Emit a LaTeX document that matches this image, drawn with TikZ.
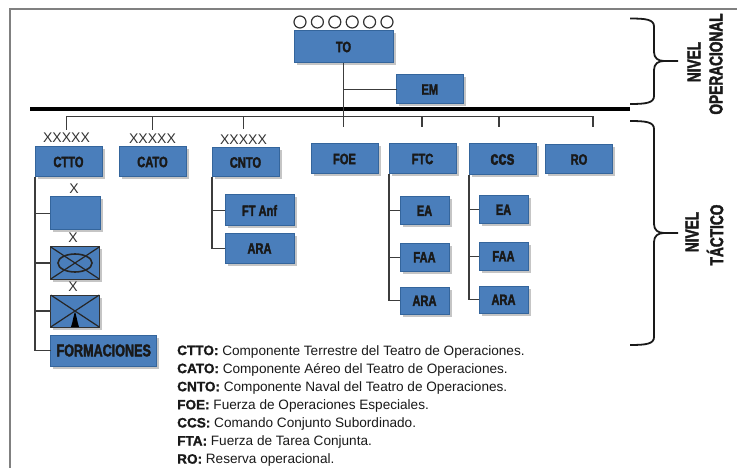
\documentclass[tikz,border=0pt]{standalone}
\usepackage{fontspec}
\setmainfont{Liberation Sans}[BoldFeatures={FakeBold=1.2}]
\newfontfamily\condfont{Liberation Sans}[FakeStretch=0.74, BoldFeatures={FakeBold=2, FakeStretch=0.74}]
\usetikzlibrary{positioning, shadows, calc}
\definecolor{unitblue}{HTML}{4A7EBB}
\definecolor{unitedge}{HTML}{34659C}
\definecolor{linkgray}{HTML}{3C3C3C}
\newcommand{\levelbrace}[3]{%
  \draw[bracket] (630,#1) .. controls (646,#1) and (654,#1+1) .. (654,#1+8)
    -- (654,#2-9) .. controls (654,#2-3) and (658,#2) .. (664,#2) -- (678,#2)
    (664,#2) .. controls (658,#2) and (654,#2+3) .. (654,#2+9)
    -- (654,#3-8) .. controls (654,#3-1) and (646,#3) .. (630,#3);}

\begin{document}
\begin{tikzpicture}[
    x=1bp, y=-1bp,
    unit/.style={rectangle, draw=unitedge, line width=1bp, fill=unitblue, inner sep=0pt, outer sep=0pt, text=black!90, font=\condfont\fontsize{15bp}{15bp}\selectfont\bfseries, drop shadow={shadow xshift=2.5bp, shadow yshift=-2.5bp, fill=black!45}},
    top/.style={unit, minimum width=67bp, minimum height=30bp},
    sub/.style={unit, minimum width=49bp, minimum height=27.5bp},
    wide/.style={unit, minimum width=69bp, minimum height=30bp},
    symbol/.style={unit, draw=black!80, minimum width=48.5bp, minimum height=32bp},
    rank/.style={inner sep=0pt, text=black!80, font=\fontsize{14bp}{14bp}\selectfont},
    ring/.style={circle, draw=black!80, line width=1.2bp, minimum size=12bp, inner sep=0pt},
    link/.style={line width=1.3bp, draw=linkgray},
    bracket/.style={line width=1.8bp, draw=black!90},
    level/.style={rotate=90, inner sep=0pt, text=black!90, font=\condfont\fontsize{18.5bp}{18.5bp}\selectfont\bfseries}
]
\useasboundingbox (0,0) rectangle (737,468);

% Frame
\draw[line width=2bp, draw=gray] (10,468) -- (10,9) -- (737,9);

% Operational level
\node[top, minimum width=99bp, minimum height=32bp] (to) at (343.5,47) {TO};
\node[top, minimum width=66.5bp, minimum height=29bp, right=3.5bp of to.south east, anchor=north west, yshift=-12bp] (em) {EM};
\foreach \i in {0,...,5}
  \node[ring] (ring\i) at (300+17.4*\i,22) {};

% Main bar and bus
\coordinate (barL) at (30,109);
\coordinate (barR) at (630,109);
\coordinate (busL) at (66,116.5);
\coordinate (busR) at (593,116.5);
\coordinate (dropfoe) at (343.5,127);
\coordinate (dropftc) at (422,127);
\coordinate (dropccs) at (499,127);
\coordinate (dropro) at (593,127);

% Tactical level
\node[top] (ctto) at (68.5,162) {CTTO};
\node[top] (cato) at (152.5,162) {CATO};
\node[top, minimum height=29bp] (cnto) at (245.5,162.5) {CNTO};
\node[top] (foe) at (344.5,159) {FOE};
\node[top] (ftc) at (422.5,159) {FTC};
\node[top, minimum height=31bp, font=\condfont\fontsize{19.5bp}{19.5bp}\selectfont\bfseries] (ccs) at (502.5,159.5) {ccs};
\node[top, minimum height=29bp] (ro) at (579,159.5) {RO};

% Ranks
\node[rank, outer ysep=3.5bp] (xctto) at (66.5,138) {XXXXX};
\node[rank, outer ysep=4.5bp] (xcato) at (152.5,139) {XXXXX};
\node[rank, outer ysep=6bp] (xcnto) at (243.5,140) {XXXXX};

% CTTO units
\node[unit, minimum width=50bp, minimum height=33bp, below right=20bp and 15bp of ctto.south west] (brig) {};
\node[symbol, below=17bp of brig] (mech) {};
\node[symbol, below=16bp of mech] (para) {};
\node[unit, minimum width=106bp, minimum height=31bp, below=8bp of para.south west, anchor=north west, font=\condfont\fontsize{17bp}{17bp}\selectfont\bfseries] (form) {FORMACIONES};
\node[rank] (xbrig) at (74,189) {X};
\node[rank] (xmech) at (73,238) {X};
\node[rank] (xpara) at (73,287) {X};

% CNTO units
\node[wide, minimum height=31bp, below right=18bp and 13bp of cnto.south west] (ftanf) {FT Anf};
\node[wide, minimum height=29bp, below=8bp of ftanf] (aracn) {ARA};

% FTC units
\node[sub, below right=23bp and 11bp of ftc.south west] (eaftc) {EA};
\node[sub, below=19bp of eaftc] (faaftc) {FAA};
\node[sub, below=16bp of faaftc] (araftc) {ARA};

% CCS units
\node[sub, below right=21bp and 10bp of ccs.south west] (eaccs) {EA};
\node[sub, below=19bp of eaccs] (faaccs) {FAA};
\node[sub, below=16bp of faaccs] (araccs) {ARA};

% Symbols
\draw[line width=1.2bp, black!85] (mech.north west) -- (mech.south east) (mech.south west) -- (mech.north east);
\draw[line width=1.6bp, black!85] (mech.center) ellipse (17 and 9);
\draw[line width=1.2bp, black!85] (para.north west) -- (para.south east) (para.south west) -- (para.north east);
\fill[black] ($(para.south)+(-4,0)$) .. controls ($(para.south)+(-2,-6)$) and ($(para.south)+(-1,-14)$) .. ($(para.south)+(0,-15)$) .. controls ($(para.south)+(1,-14)$) and ($(para.south)+(2,-6)$) .. ($(para.south)+(4,0)$) -- cycle;

% Links
\draw[line width=4bp, black] (barL) -- (barR);
\draw[link] (to.south) -- (dropfoe);
\draw[link] (to.south |- em.west) -- (em.west);
\draw[link] (xctto.north) |- (busR) -- (dropro);
\draw[link] (xcato.north) -- (xcato.north |- busL);
\draw[link] (xcnto.north) -- (xcnto.north |- busL);
\draw[link] (dropftc) -- (dropftc |- busL);
\draw[link] (dropccs) -- (dropccs |- busL);

\draw[link] (ctto.south west) |- (form.west);
\draw[link] (ctto.south west |- brig.west) -- (brig.west);
\draw[link] (ctto.south west |- mech.west) -- (mech.west);
\draw[link] (ctto.south west |- para.west) -- (para.west);

\draw[link] (cnto.south west) |- (aracn.west);
\draw[link] (cnto.south west |- ftanf.west) -- (ftanf.west);

\draw[link] (ftc.south west) |- (araftc.west);
\draw[link] (ftc.south west |- eaftc.west) -- (eaftc.west);
\draw[link] (ftc.south west |- faaftc.west) -- (faaftc.west);

\draw[link] (ccs.south west) |- (araccs.west);
\draw[link] (ccs.south west |- eaccs.west) -- (eaccs.west);
\draw[link] (ccs.south west |- faaccs.west) -- (faaccs.west);

% Braces
\levelbrace{18.5}{61}{104}
\levelbrace{121}{233}{345}
\node[level] (nivelop) at (694,62) {NIVEL};
\node[level] (oper) at (716,64) {OPERACIONAL};
\node[level] (niveltac) at (692,232) {NIVEL};
\node[level] (tactico) at (715,235) {TÁCTICO};

% Legend
\node[anchor=north west, inner sep=0pt, align=left, text=black!90, font=\fontsize{13.6bp}{18.1bp}\selectfont] (legend) at (177,345) {%
\textbf{CTTO:} Componente Terrestre del Teatro de Operaciones.\\
\textbf{CATO:} Componente Aéreo  del Teatro de Operaciones.\\
\textbf{CNTO:} Componente Naval del Teatro de Operaciones.\\
\textbf{FOE:} Fuerza de Operaciones Especiales.\\
\textbf{CCS:} Comando Conjunto Subordinado.\\
\textbf{FTA:} Fuerza de Tarea Conjunta.\\
\textbf{RO:} Reserva operacional.};

\end{tikzpicture}
\end{document}
